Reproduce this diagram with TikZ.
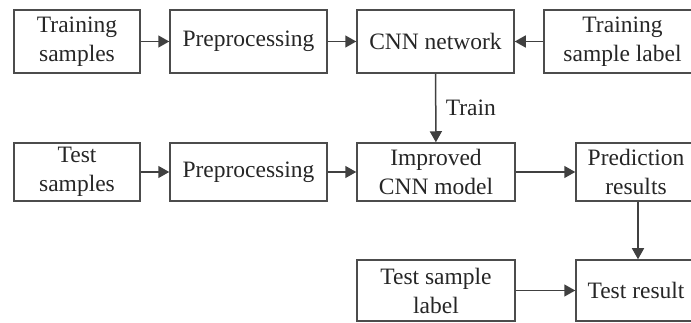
\documentclass[tikz,border=0pt]{standalone}
\usepackage{fontspec}
\setmainfont{Liberation Serif}
\usetikzlibrary{arrows.meta}
\tikzset{
  box/.style={draw=black!70, line width=1.5pt, rectangle, align=center, inner sep=0pt,
    font=\fontsize{23.5}{29}\selectfont, text=black!85},
  conn/.style={draw=black!70, line width=1.5pt, -{Triangle[length=11pt,width=12pt]}, black!75}
}
\begin{document}
\begin{tikzpicture}[x=1pt,y=-1pt]
\useasboundingbox (0,0) rectangle (691,323);
\node[box, minimum width=126pt, minimum height=63pt] (ts) at (77,41.5) {Training\\samples};
\node[box, minimum width=157pt, minimum height=63pt] (pre1) at (248.5,41.5) {Preprocessing};
\node[box, minimum width=157pt, minimum height=63pt] (cnn) at (435.5,41.5) {CNN network};
\node[box, minimum width=157pt, minimum height=63pt] (tsl) at (622.5,41.5) {Training\\sample label};
\node[box, minimum width=126pt, minimum height=58pt] (tes) at (77,172) {Test\\samples};
\node[box, minimum width=157pt, minimum height=58pt] (pre2) at (248.5,172) {Preprocessing};
\node[box, minimum width=158pt, minimum height=58pt] (imp) at (436,172) {Improved\\CNN model};
\node[box, minimum width=120pt, minimum height=58pt] (pred) at (636,172) {Prediction\\results};
\node[box, minimum width=158pt, minimum height=61pt] (tlab) at (436,290.5) {Test sample\\label};
\node[box, minimum width=120pt, minimum height=61pt] (tres) at (636,290.5) {Test result};
\draw[conn] (ts) -- (pre1);
\draw[conn] (pre1) -- (cnn);
\draw[conn] (tsl) -- (cnn);
\draw[conn] (cnn) -- node[right=6pt, font=\fontsize{23.5}{29}\selectfont, text=black!85] (trl) {Train} (imp);
\draw[conn] (tes) -- (pre2);
\draw[conn] (pre2) -- (imp);
\draw[conn] (imp) -- (pred);
\draw[conn] (pred.south -| 638,0) -- (tres.north -| 638,0);
\draw[conn] (tlab) -- (tres);
\end{tikzpicture}
\end{document}
